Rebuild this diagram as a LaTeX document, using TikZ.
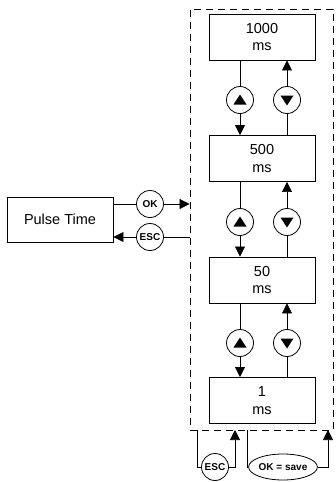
\documentclass[tikz,border=0pt]{standalone}
\usepackage{fontspec}
\setmainfont{Liberation Sans}
\usetikzlibrary{arrows.meta,shapes.geometric}
\begin{document}
\begin{tikzpicture}[x=1pt,y=-1pt,
  valbox/.style={draw,line width=0.9pt,minimum width=106pt,minimum height=46pt,align=center,font=\fontsize{14.5}{17.5}\selectfont,inner sep=0pt},
  key/.style={draw,circle,line width=0.8pt,minimum size=27pt,inner sep=0pt,font=\bfseries\fontsize{10}{11}\selectfont},
  upkey/.style={key,path picture={\fill ([shift={(0pt,5.5pt)}]path picture bounding box.center) -- ++(6.5pt,-10pt) -- ++(-13pt,0pt) -- cycle;}},
  downkey/.style={key,path picture={\fill ([shift={(0pt,-5.5pt)}]path picture bounding box.center) -- ++(6.5pt,10pt) -- ++(-13pt,0pt) -- cycle;}},
  conn/.style={line width=0.7pt},
  arr/.style={conn,-{Triangle[length=10pt,width=10pt]}},
]
\useasboundingbox (0,0) rectangle (335,482);
% frame
\node[draw,line width=0.8pt,dash pattern=on 7pt off 5pt,minimum width=143pt,minimum height=421pt,inner sep=0pt] (frame) at (261.5,219.5) {};
% value boxes
\node[valbox] (b1000) at (262,37) {1000\\ms};
\node[valbox] (b500) at (262,158.5) {500\\ms};
\node[valbox] (b50) at (262,280) {50\\ms};
\node[valbox] (b1) at (262,400.5) {1\\ms};
% keys
\node[upkey] (u1) at (240,100) {};
\node[downkey] (d1) at (287,100) {};
\node[upkey] (u2) at (240,222) {};
\node[downkey] (d2) at (287,222) {};
\node[upkey] (u3) at (240,343) {};
\node[downkey] (d3) at (287,343) {};
% vertical connectors
\draw[conn] (u1 |- b1000.south) -- (u1.north);
\draw[arr] (u1.south) -- (u1 |- b500.north);
\draw[conn] (d1 |- b500.north) -- (d1.south);
\draw[arr] (d1.north) -- (d1 |- b1000.south);
\draw[conn] (u2 |- b500.south) -- (u2.north);
\draw[arr] (u2.south) -- (u2 |- b50.north);
\draw[conn] (d2 |- b50.north) -- (d2.south);
\draw[arr] (d2.north) -- (d2 |- b500.south);
\draw[conn] (u3 |- b50.south) -- (u3.north);
\draw[arr] (u3.south) -- (u3 |- b1.north);
\draw[conn] (d3 |- b1.north) -- (d3.south);
\draw[arr] (d3.north) -- (d3 |- b50.south);
% pulse time
\node[valbox,minimum height=45pt] (pt) at (60,219.5) {Pulse Time};
\node[key] (ok) at (150,204) {OK};
\node[key] (esc) at (150,237) {ESC};
\draw[conn] (pt.east |- ok) -- (ok.west);
\draw[arr] (ok.east) -- (ok -| frame.west);
\draw[conn] (esc -| frame.west) -- (esc.east);
\draw[arr] (esc.west) -- (esc -| pt.east);
% bottom
\node[key] (escb) at (215,467) {ESC};
\node[draw,ellipse,line width=0.8pt,minimum width=61pt,minimum height=26pt,inner sep=0pt,font=\bfseries\fontsize{10}{11}\selectfont] (save) at (283,467) {OK = save};
\coordinate (s1) at (197,430);
\coordinate (s2) at (235,430);
\coordinate (s3) at (247,430);
\coordinate (s4) at (328,430);
\draw[conn] (s1) |- (escb.west);
\draw[arr] (escb.east) -| (s2);
\draw[conn] (s3) |- (save.west);
\draw[arr] (save.east) -| (s4);
\end{tikzpicture}
\end{document}
